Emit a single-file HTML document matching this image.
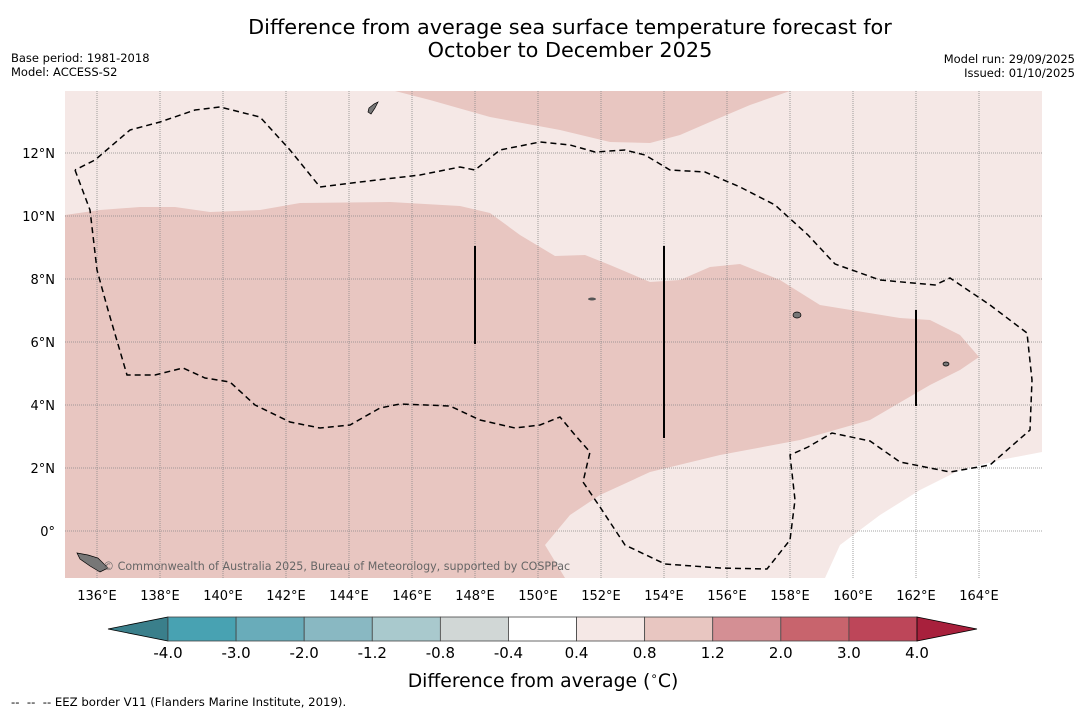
<!DOCTYPE html>
<html><head><meta charset="utf-8"><style>
body{margin:0;background:#fff;width:1085px;height:713px;overflow:hidden;font-family:"DejaVu Sans","Liberation Sans",sans-serif}
svg text{font-family:"DejaVu Sans","Liberation Sans",sans-serif}
</style></head><body>
<svg id="chart" width="1085" height="713" viewBox="0 0 1085 713" xmlns="http://www.w3.org/2000/svg">
<text x="570" y="34" font-size="20.8" text-anchor="middle">Difference from average sea surface temperature forecast for</text>
<text x="570" y="57" font-size="20.8" text-anchor="middle">October to December 2025</text>
<text x="11" y="62" font-size="11.5">Base period: 1981-2018</text>
<text x="11" y="76" font-size="11.5">Model: ACCESS-S2</text>
<text x="1075" y="63" font-size="11.5" text-anchor="end">Model run: 29/09/2025</text>
<text x="1075" y="77" font-size="11.5" text-anchor="end">Issued: 01/10/2025</text>
<g id="map">
<rect x="65" y="91" width="977" height="487" fill="#f5e8e6"/>
<polygon fill="#e8c6c1" points="395,91 430,100 490,117 560,130 610,142 650,143 680,135 710,122 750,105 790,91"/>
<polygon fill="#e8c6c1" points="65,215 100,210 140,207 175,207 210,212 260,210 300,203 390,202 460,206 490,213 520,235 555,256 585,255 610,265 650,282 680,280 710,267 740,264 780,280 820,305 900,318 930,320 960,335 979,357 960,370 930,385 870,420 800,440 720,455 650,472 600,495 570,515 545,545 565,578 65,578"/>
<polygon fill="#ffffff" points="825,578 840,545 880,515 920,490 960,470 1000,460 1042,452 1042,578"/>
<g id="grid"></g>
<polyline fill="none" stroke="#000" stroke-width="1.5" stroke-dasharray="6,4" points="75,170 90,210 97,270 108,310 127,375 155,375 183,368 205,378 230,382 255,405 290,422 320,428 350,425 380,408 400,404 450,406 480,420 515,428 540,425 560,417 575,435 590,452 583,482 600,507 625,545 665,564 720,568 767,569 790,540 795,500 790,455 808,447 832,433 870,441 900,462 950,472 990,465 1030,430 1032,380 1027,333 990,305 950,278 935,285 880,280 835,264 808,235 775,205 740,187 705,172 670,170 645,155 625,150 595,152 570,145 540,142 500,150 475,170 460,167 420,175 360,182 320,187 290,150 260,117 220,107 195,110 160,122 130,130 95,160 75,170"/>
<line x1="475" y1="246" x2="475" y2="344" stroke="#000" stroke-width="2"/>
<line x1="664" y1="246" x2="664" y2="438" stroke="#000" stroke-width="2"/>
<line x1="916" y1="310" x2="916" y2="406" stroke="#000" stroke-width="2"/>
<polygon fill="#777" stroke="#000" stroke-width="0.7" points="369,108 374,104 378,102 375,108 371,114 368,112"/>
<polygon fill="#777" stroke="#000" stroke-width="0.7" points="77,553 88,555 98,558 108,568 100,572 90,566 80,559"/>
<ellipse cx="797" cy="315" rx="4" ry="3" fill="#777" stroke="#000" stroke-width="0.7"/>
<ellipse cx="946" cy="364" rx="3" ry="2" fill="#777" stroke="#000" stroke-width="0.7"/>
<ellipse cx="592" cy="299" rx="4" ry="1.5" fill="#555"/>
<text x="103" y="570" font-size="11.1" fill="#666">© Commonwealth of Australia 2025, Bureau of Meteorology, supported by COSPPac</text>
</g>
<g id="xticks"></g>
<g id="yticks"></g>
<g id="cbar"></g>
<text x="543" y="687" font-size="18.8" text-anchor="middle">Difference from average (<tspan font-size="12" dy="-7">∘</tspan><tspan dy="7">C)</tspan></text>
<text x="11" y="706" font-size="11.7" xml:space="preserve">--  --  -- EEZ border V11 (Flanders Marine Institute, 2019).</text>
</svg>
<script>
const lonTicks=[136,138,140,142,144,146,148,150,152,154,156,158,160,162,164];
const latTicks=[0,2,4,6,8,10,12];
const cbarLabels=["-4.0","-3.0","-2.0","-1.2","-0.8","-0.4","0.4","0.8","1.2","2.0","3.0","4.0"];
const cbarColors=["#48a2b2","#69acba","#89b8c2","#a9c9cd","#d1d7d6","#ffffff","#f5e8e6","#e8c6c1","#d48f94","#c8646d","#bd4659"];
const NS="http://www.w3.org/2000/svg";
const X0=65,Y0=91,X1=1042,Y1=578;
const xOf=lon=>65.5+31.5*(lon-135);
const yOf=lat=>531-31.5*lat;
function mk(tag,attrs,parent){const e=document.createElementNS(NS,tag);for(const k in attrs)e.setAttribute(k,attrs[k]);parent.appendChild(e);return e;}
const grid=document.getElementById('grid'),xt=document.getElementById('xticks'),yt=document.getElementById('yticks'),cb=document.getElementById('cbar');
lonTicks.forEach(l=>{const x=xOf(l);
const ln=mk('line',{x1:x,y1:Y0,x2:x,y2:Y1,stroke:'#888','stroke-width':0.8,'stroke-dasharray':'1,1'},grid);


const t=mk('text',{x:x,y:600,'font-size':13,'text-anchor':'middle'},xt);t.textContent=l+'°E';

});
latTicks.forEach(l=>{const y=yOf(l);
const ln=mk('line',{x1:X0,y1:y,x2:X1,y2:y,stroke:'#888','stroke-width':0.8,'stroke-dasharray':'1,1'},grid);


const t=mk('text',{x:55,y:y+5,'font-size':13,'text-anchor':'end'},yt);t.textContent=l===0?'0°':l+'°N';

});
const cx0=168,cx1=917,cy=617,ch=24,bw=(cx1-cx0)/cbarColors.length;
const lt=mk('polygon',{points:`108,629 ${cx0},${cy} ${cx0},${cy+ch}`,fill:'#3a7f8b',stroke:'#000','stroke-width':0.8},cb);


cbarColors.forEach((c,i)=>{const r=mk('rect',{x:cx0+i*bw,y:cy,width:bw,height:ch,fill:c,stroke:'#444','stroke-width':0.8},cb);

});
const rt=mk('polygon',{points:`${cx1},${cy} 977,629 ${cx1},${cy+ch}`,fill:'#a8203c',stroke:'#000','stroke-width':0.8},cb);


cbarLabels.forEach((s,i)=>{const t=mk('text',{x:cx0+i*bw,y:658,'font-size':15,'text-anchor':'middle'},cb);t.textContent=s;

});
</script>
</body></html>
